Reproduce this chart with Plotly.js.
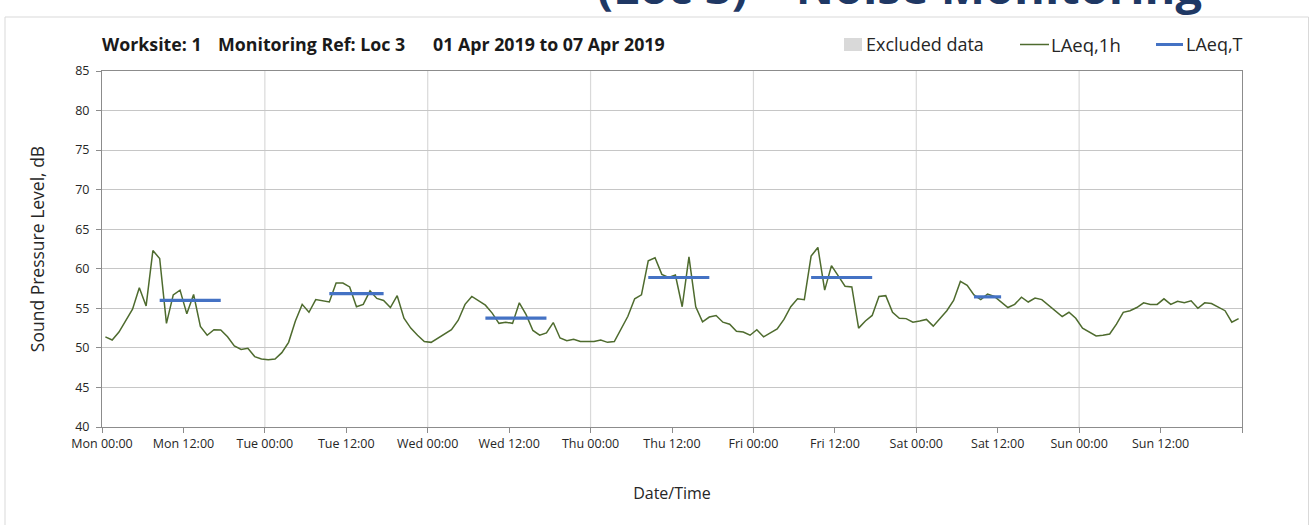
<!DOCTYPE html>
<html>
<head>
<meta charset="utf-8">
<script src="https://cdn.plot.ly/plotly-3.0.1.min.js"></script>
<style>
  html, body { margin: 0; padding: 0; background: #ffffff; }
  #chart { width: 1314px; height: 525px; }
</style>
</head>
<body>
<div id="chart"></div>
<script>
// ---------------- DATA ----------------
// Hourly LAeq,1h values (dB), one array per day, hour 00 .. 23
const mon = [51.4, 51.0, 52.0, 53.4, 54.9, 57.6, 55.3, 62.3, 61.3, 53.1, 56.7, 57.3,
             54.3, 56.75, 52.7, 51.6, 52.3, 52.25, 51.4, 50.25, 49.8, 49.95, 48.9, 48.6];
const tue = [48.5, 48.6, 49.4, 50.7, 53.4, 55.5, 54.5, 56.1, 55.95, 55.8, 58.2, 58.2,
             57.7, 55.2, 55.5, 57.2, 56.25, 56.0, 55.1, 56.6, 53.75, 52.5, 51.6, 50.8];
const wed = [50.7, 51.25, 51.7, 52.3, 53.5, 55.5, 56.5, 55.95, 55.4, 54.4, 53.1, 53.25,
             53.1, 55.7, 54.2, 52.2, 51.6, 51.9, 53.2, 51.25, 50.9, 51.1, 50.8, 50.8];
const thu = [50.8, 51.0, 50.7, 50.8, 52.4, 54.0, 56.2, 56.7, 61.0, 61.4, 59.3, 58.9,
             59.2, 55.2, 61.5, 55.2, 53.3, 53.9, 54.1, 53.25, 53.0, 52.1, 52.0, 51.6];
const fri = [52.3, 51.4, 51.9, 52.4, 53.6, 55.2, 56.2, 56.1, 61.6, 62.7, 57.3, 60.4,
             59.1, 57.8, 57.7, 52.5, 53.4, 54.1, 56.5, 56.6, 54.5, 53.75, 53.7, 53.25];
const sat = [53.4, 53.6, 52.75, 53.7, 54.7, 56.0, 58.4, 57.9, 56.7, 56.1, 56.8, 56.5,
             55.8, 55.1, 55.5, 56.4, 55.8, 56.3, 56.1, 55.4, 54.6, 53.95, 54.5, 53.75];
const sun = [52.5, 51.95, 51.5, 51.6, 51.75, 53.0, 54.5, 54.7, 55.1, 55.7, 55.5, 55.5,
             56.2, 55.5, 55.9, 55.7, 55.95, 55.0, 55.7, 55.6, 55.2, 54.7, 53.25, 53.7];

// LAeq,T over each working period (hour-of-week at which each period starts / ends)
const periodStartHour = [8.5, 33.5, 56.5, 80.5, 104.5, 128.5];
const periodEndHour   = [17.5, 41.5, 65.5, 89.5, 113.5, 132.5];
const laeqT           = [56.0, 56.85, 53.75, 58.9, 58.9, 56.45];

const dayNames  = ['Mon', 'Tue', 'Wed', 'Thu', 'Fri', 'Sat', 'Sun'];
const tickHours = ['00:00', '12:00'];
const yTicks    = [40, 45, 50, 55, 60, 65, 70, 75, 80, 85];

// ---------------- HELPERS ----------------
const WEEK_START_MS = Date.UTC(2019, 3, 1); // Mon 01 Apr 2019
function hourToDate(h) {
  return new Date(WEEK_START_MS + h * 3600000).toISOString().slice(0, 19).replace('T', ' ');
}
// layout pixel helpers (plot area: x 102..1242, y 71..427)
const L = 102, R = 72, T = 71, B = 98, W = 1314, H = 525;
const PW = W - L - R, PH = H - T - B;
const px = v => (v - L) / PW;
const py = v => (H - B - v) / PH;

// ---------------- TRACES ----------------
const hourly = [].concat(mon, tue, wed, thu, fri, sat, sun);
const hourlyX = hourly.map((_, i) => hourToDate(i + 0.5)); // each hour plotted at its mid-point

const tX = [], tY = [];
laeqT.forEach((v, k) => {
  tX.push(hourToDate(periodStartHour[k]), hourToDate(periodEndHour[k]), null);
  tY.push(v, v, null);
});

const traces = [
  {
    type: 'scatter', mode: 'lines', name: 'LAeq,1h',
    x: hourlyX, y: hourly,
    line: { color: '#4E6B2E', width: 1.5 },
    showlegend: false, hoverinfo: 'x+y'
  },
  {
    type: 'scatter', mode: 'lines', name: 'LAeq,T',
    x: tX, y: tY,
    line: { color: '#4472C4', width: 3.2 },
    connectgaps: false,
    showlegend: false, hoverinfo: 'x+y'
  }
];

// ---------------- AXES ----------------
const tickvals = [], ticktext = [];
dayNames.forEach((d, di) => {
  tickHours.forEach((h, hi) => {
    tickvals.push(hourToDate(di * 24 + hi * 12));
    ticktext.push(d + ' ' + h);
  });
});
tickvals.push(hourToDate(168));
ticktext.push('');

// daily vertical gridlines
const shapes = [];
for (let d = 1; d < 7; d++) {
  shapes.push({
    type: 'line', xref: 'x', yref: 'paper',
    x0: hourToDate(d * 24), x1: hourToDate(d * 24), y0: 0, y1: 1,
    line: { color: '#d9d9d9', width: 1.2 }, layer: 'below'
  });
}
// chart-area frame
shapes.push({
  type: 'rect', xref: 'paper', yref: 'paper',
  x0: px(5), x1: px(1308.5), y0: py(540), y1: py(17),
  line: { color: '#d9d9d9', width: 1 }, fillcolor: 'rgba(0,0,0,0)', layer: 'below'
});
// legend keys
shapes.push({
  type: 'rect', xref: 'paper', yref: 'paper',
  x0: px(844), x1: px(862), y0: py(51), y1: py(38),
  line: { width: 0 }, fillcolor: '#d9d9d9'
});
shapes.push({
  type: 'line', xref: 'paper', yref: 'paper',
  x0: px(1020), x1: px(1049), y0: py(44.5), y1: py(44.5),
  line: { color: '#4E6B2E', width: 1.5 }
});
shapes.push({
  type: 'line', xref: 'paper', yref: 'paper',
  x0: px(1156), x1: px(1183), y0: py(44.5), y1: py(44.5),
  line: { color: '#4472C4', width: 3 }
});

const FONT = '"Open Sans", Lato, "DejaVu Sans", sans-serif';
function label(text, xPix, yPix, opts) {
  return Object.assign({
    text: text, xref: 'paper', yref: 'paper', x: px(xPix), y: py(yPix),
    xanchor: 'left', yanchor: 'middle', showarrow: false, borderpad: 0,
    font: { family: FONT, size: 18, color: '#262626' }
  }, opts || {});
}
const titleFont = { family: FONT, size: 17.8, color: '#1a1a1a' };

const annotations = [
  label('<b>Worksite: 1</b>', 101, 44, { font: titleFont }),
  label('<b>Monitoring Ref: Loc 3</b>', 217, 44, { font: titleFont }),
  label('<b>01 Apr 2019 to 07 Apr 2019</b>', 432, 44, { font: titleFont }),
  label('Excluded data', 865, 44),
  label('LAeq,1h', 1050, 44, { font: { family: FONT, size: 18.5, color: '#262626' } }),
  label('LAeq,T', 1185, 44),
  label('<b>(Loc 3) \u2013 Noise Monitoring</b>', 596, 19,
        { xanchor: 'left', yanchor: 'bottom', font: { family: FONT, size: 47, color: '#1F3864' } })
];

const layout = {
  width: W, height: H,
  margin: { l: L, r: R, t: T, b: B, pad: 0 },
  paper_bgcolor: '#ffffff', plot_bgcolor: '#ffffff',
  font: { family: FONT, size: 12.5, color: '#262626' },
  showlegend: false,
  xaxis: {
    type: 'date',
    range: [hourToDate(0), hourToDate(168)],
    tickmode: 'array', tickvals: tickvals, ticktext: ticktext,
    ticks: 'outside', ticklen: 5, tickcolor: '#8c8c8c', tickwidth: 1,
    showline: true, linecolor: '#8c8c8c', linewidth: 1, mirror: true,
    showgrid: false, zeroline: false,
    tickfont: { family: FONT, size: 12.5, color: '#262626' },
    title: { text: 'Date/Time', font: { family: FONT, size: 16, color: '#262626' }, standoff: 36 },
    automargin: false, fixedrange: true
  },
  yaxis: {
    range: [40, 85],
    tickmode: 'array', tickvals: yTicks,
    ticks: 'outside', ticklen: 5, tickcolor: '#8c8c8c', tickwidth: 1,
    showline: true, linecolor: '#8c8c8c', linewidth: 1, mirror: true,
    showgrid: true, gridcolor: '#c6c6c6', gridwidth: 1.2, zeroline: false,
    tickfont: { family: FONT, size: 12.5, color: '#262626' },
    ticklabelstandoff: 4,
    title: { text: 'Sound Pressure Level, dB', font: { family: FONT, size: 17.5, color: '#262626' }, standoff: 26 },
    automargin: false, fixedrange: true
  },
  shapes: shapes,
  annotations: annotations
};

Plotly.newPlot('chart', traces, layout, { displayModeBar: false, staticPlot: true });
</script>
</body>
</html>
